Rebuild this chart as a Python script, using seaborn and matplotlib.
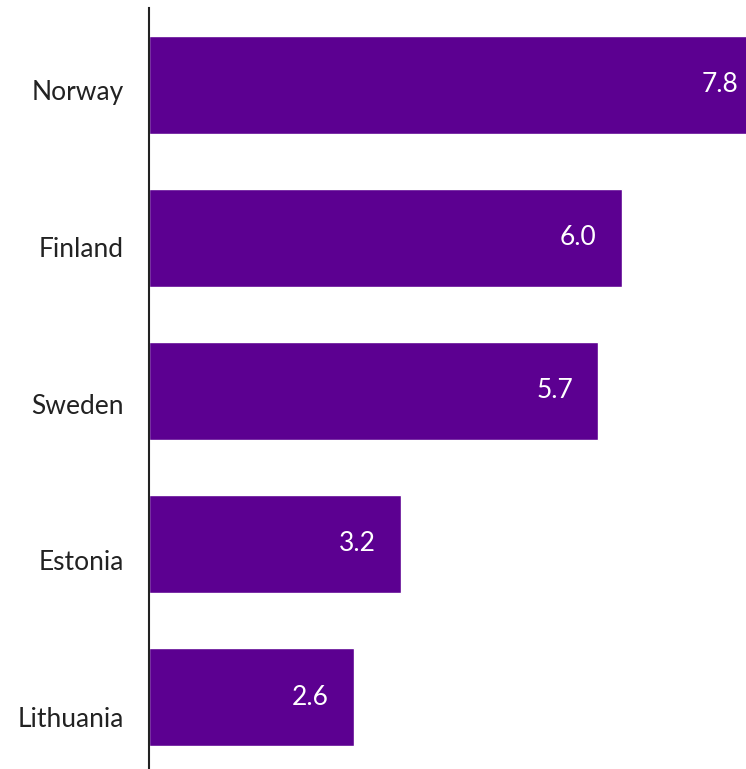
import matplotlib
matplotlib.use("Agg")
import matplotlib.pyplot as plt
import seaborn as sns
import pandas as pd

countries = ["Norway", "Finland", "Sweden", "Estonia", "Lithuania"]
values = [7.8, 6.0, 5.7, 3.2, 2.6]
labels = ["7.8", "6.0", "5.7", "3.2", "2.6"]

sns.set_style("white")
plt.rcParams['font.family'] = ['Lato', 'DejaVu Sans']

df = pd.DataFrame({"country": countries, "value": values})

fig = plt.figure(figsize=(7.46, 7.69), dpi=100)
ax = fig.add_axes([149/746, 0.0, 1 - 149/746, 1 - 8/769])
sns.barplot(data=df, x="value", y="country", color="#5c0091", saturation=1,
            width=0.64, ax=ax)
ax.set_xlim(0, 7.58)
ax.set_ylim(4.47, -0.5)
ax.set_xlabel("")
ax.set_ylabel("")
ax.set_xticks([])
# category labels sit slightly below the bar centres in the reference
ax.set_yticks([i + 0.036 + 0.0235 * i for i in range(len(countries))])
ax.set_yticklabels(countries)
for s in ["top", "right", "bottom"]:
    ax.spines[s].set_visible(False)
ax.spines["left"].set_color("#222222")
ax.spines["left"].set_linewidth(1.5)
ax.tick_params(axis="y", length=0, pad=18, labelsize=19, labelcolor="#222222")

for i, (v, lab) in enumerate(zip(values, labels)):
    ax.annotate(lab, xy=(v, i), xytext=(-18, 0), textcoords="offset points",
                ha="right", va="center", color="white", fontsize=19,
                annotation_clip=False)

fig.savefig("out.png", dpi=100)
